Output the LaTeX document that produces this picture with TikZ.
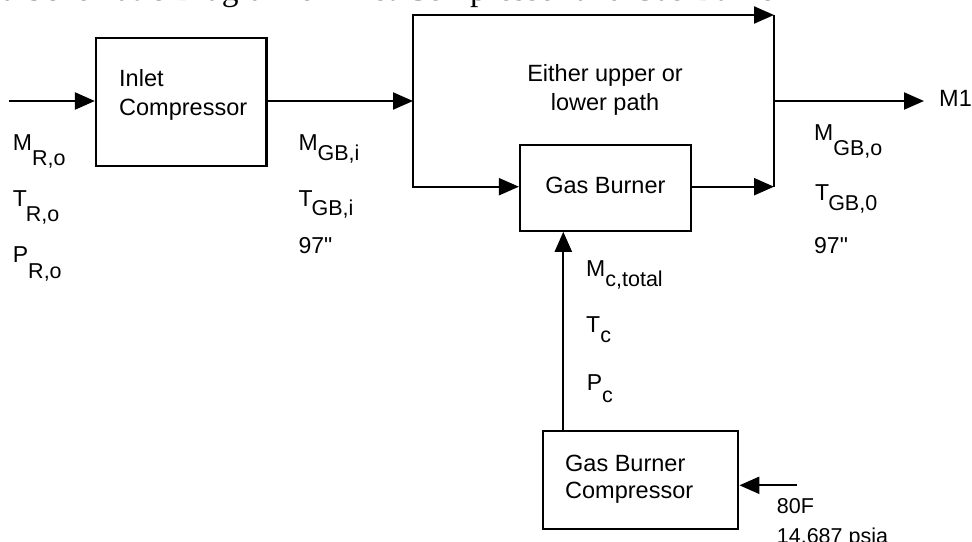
\documentclass[tikz,border=0pt]{standalone}
\usepackage{fontspec}
\usetikzlibrary{arrows.meta}
\newfontfamily\labfont{Liberation Sans}
\newfontfamily\capfont{Liberation Serif}
\newcommand{\lbl}[3]{#1\raisebox{-#3pt}{\fontsize{21.5}{22}\selectfont #2}}
\begin{document}
\begin{tikzpicture}[x=1pt,y=-1pt,
  box/.style={draw, line width=2.2pt, inner sep=0pt},
  conn/.style={line width=2.2pt},
  arr/.style={conn, -{Triangle[length=20pt,width=17pt]}},
  dblarr/.style={conn, {Triangle[length=20pt,width=17pt]}-{Triangle[length=20pt,width=17pt]}},
  txt/.style={anchor=base west, inner sep=0pt, font=\labfont\fontsize{23.5}{29}\selectfont},
  ctxt/.style={txt, anchor=base},
  lab/.style={anchor=base west, inner sep=0pt, font=\labfont\fontsize{23}{28}\selectfont},
  small/.style={anchor=base west, inner sep=0pt, font=\labfont\fontsize{21.5}{26}\selectfont},
  captxt/.style={anchor=base west, inner sep=0pt, font=\capfont\fontsize{33.5}{40}\selectfont}
]
\useasboundingbox (0,0) rectangle (972,541);
\clip (0,0) rectangle (972,541);

% caption (clipped at the top edge)
\node[captxt] (cap) at (2,0.3) {a Schematic Diagram of Inlet Compressor and Gas Burner};

% boxes
\node[box, minimum width=170.5pt, minimum height=128pt] (ic) at (181.25,102) {};
\node[box, minimum width=170.7pt, minimum height=85.7pt] (gb) at (605.35,187.85) {};
\node[box, minimum width=195.6pt, minimum height=98pt] (gbc) at (640.5,480) {};

% box texts
\node[txt] (ict1) at (119,86.7) {Inlet};
\node[txt] (ict2) at (119,115.7) {Compressor};
\node[ctxt] (gbt) at (605.35,193.3) {Gas Burner};
\node[txt] (gbct1) at (565,471) {Gas Burner};
\node[txt] (gbct2) at (565,498) {Compressor};
\node[ctxt] (path1) at (605,81.7) {Either upper or};
\node[ctxt] (path2) at (605,110.3) {lower path};

% connector points
\coordinate (in) at (9,101);
\coordinate (split) at (413,101);
\coordinate (tl) at (413,15);
\coordinate (bl) at (413,186.7);
\coordinate (tr) at (774,15);
\coordinate (br) at (774,186.7);
\coordinate (join) at (774,101);
\coordinate (out) at (924,101);
\coordinate (feed) at (563.3,431);
\coordinate (air) at (796.7,485.3);

% connectors
\draw[arr] (in) -- (in -| ic.west);
\draw[arr] (split -| ic.east) -- (split);
\draw[dblarr] (tr) -- (tl) -- (bl) -- (bl -| gb.west);
\draw[arr] (br -| gb.east) -- (br);
\draw[conn] (tr) -- (br);
\draw[arr] (join) -- (out);
\draw[arr] (feed |- gbc.north) -- (feed |- gb.south);
\draw[arr] (air) -- (air -| gbc.east);

% labels
\node[txt] (m1) at (939,106.7) {M1};
\node[lab] (mro) at (12.7,150.5) {\lbl{M}{R,o}{15}};
\node[lab] (tro) at (12.7,206) {\lbl{T\kern-1pt}{R,o}{15}};
\node[lab] (pro) at (12.7,262.7) {\lbl{P}{R,o}{16}};
\node[lab] (mgbi) at (298.3,150) {\lbl{M}{GB,i}{10}};
\node[lab] (tgbi) at (298.3,206.7) {\lbl{T\kern-1pt}{GB,i}{9}};
\node[lab] (ninei) at (298.3,253.3) {97"};
\node[lab] (mgbo) at (814,140) {\lbl{M}{GB,o}{15}};
\node[lab] (tgbo) at (815,200) {\lbl{T\kern-1pt}{GB,0}{10}};
\node[lab] (nineo) at (814,253.3) {97"};
\node[lab] (mc) at (586,276.7) {\lbl{M}{c,total}{10}};
\node[lab] (tc) at (586,332) {\lbl{T}{c}{10}};
\node[lab] (pc) at (586.7,390) {\lbl{P}{c}{12.5}};
\node[small] (tf) at (776.7,513.3) {80F};
\node[small] (pf) at (776.7,543) {14.687 psia};
\end{tikzpicture}
\end{document}
